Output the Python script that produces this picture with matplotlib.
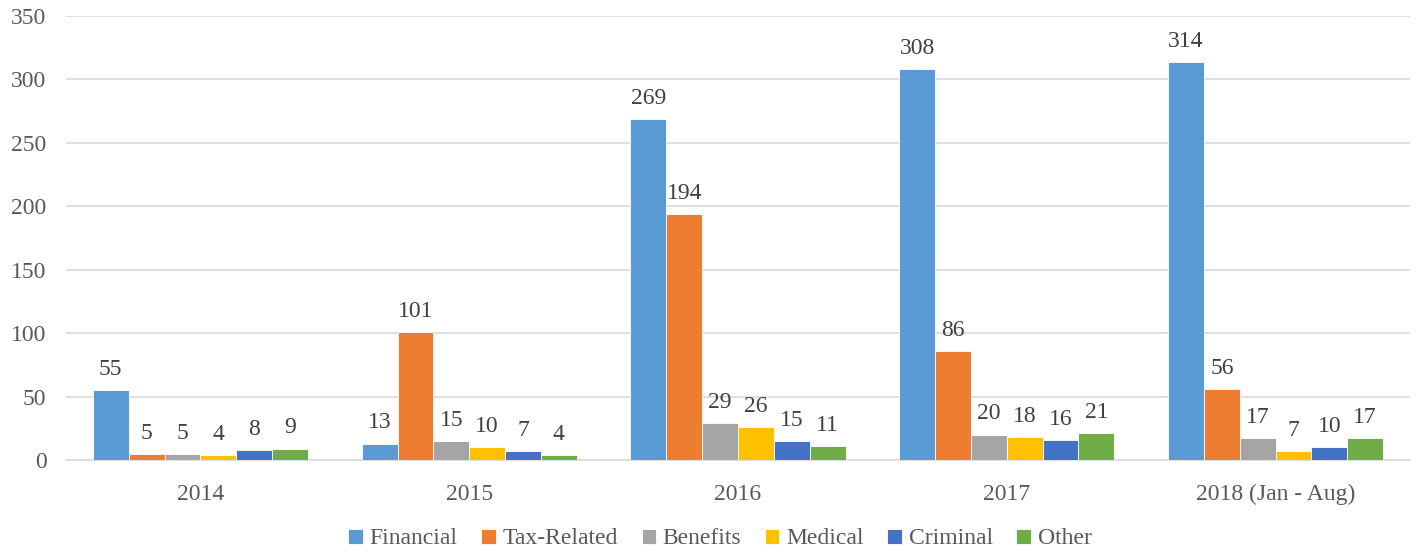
import matplotlib
matplotlib.use("Agg")
import matplotlib.pyplot as plt
import numpy as np

categories = ["2014", "2015", "2016", "2017", "2018 (Jan - Aug)"]
series_names = ["Financial", "Tax-Related", "Benefits", "Medical", "Criminal", "Other"]
financial = [55, 13, 269, 308, 314]
tax_related = [5, 101, 194, 86, 56]
benefits = [5, 15, 29, 20, 17]
medical = [4, 10, 26, 18, 7]
criminal = [8, 7, 15, 16, 10]
other = [9, 4, 11, 21, 17]
yticks = [0, 50, 100, 150, 200, 250, 300, 350]

series = [financial, tax_related, benefits, medical, criminal, other]
colors = ["#5B9BD5", "#ED7D31", "#A5A5A5", "#FFC000", "#4472C4", "#70AD47"]

plt.rcParams['font.family'] = ['Liberation Serif', 'DejaVu Serif']

fig = plt.figure(figsize=(14.16, 5.54), dpi=100)
ax = fig.add_axes([66/1416, 1-460/554, (1410-66)/1416, (460-16)/554])

x = np.arange(len(categories))
n = len(series)
group_w = 0.8
w = group_w / n
for i, (vals, name, c) in enumerate(zip(series, series_names, colors)):
    pos = x - group_w/2 + w*(i+0.5)
    ax.bar(pos, vals, width=w, color=c, label=name, edgecolor='white', linewidth=0.6, zorder=3)
    for p, v in zip(pos, vals):
        ax.text(p, v + 8, str(v), ha='center', va='bottom', fontsize=17, color='#404040')

ax.set_xlim(-0.5, len(categories)-0.5)
ax.set_ylim(0, 350)
ax.set_yticks(yticks)
ax.set_xticks(x)
ax.set_xticklabels(categories)
ax.yaxis.grid(True, color='#D9D9D9', linewidth=1.2, zorder=0)
for s in ['top', 'right', 'left']:
    ax.spines[s].set_visible(False)
ax.spines['bottom'].set_color('#D9D9D9')
ax.spines['bottom'].set_linewidth(1.2)
ax.tick_params(axis='both', length=0, labelsize=17, colors='#595959')
ax.tick_params(axis='y', pad=14)
ax.tick_params(axis='x', pad=17)

fig.legend(loc='center', bbox_to_anchor=(720/1416, 1-539/554), ncol=6, frameon=False,
           fontsize=17, handlelength=0.6, handleheight=0.6, handletextpad=0.3,
           columnspacing=1.0, labelcolor='#595959')

fig.savefig("out.png", dpi=100)
